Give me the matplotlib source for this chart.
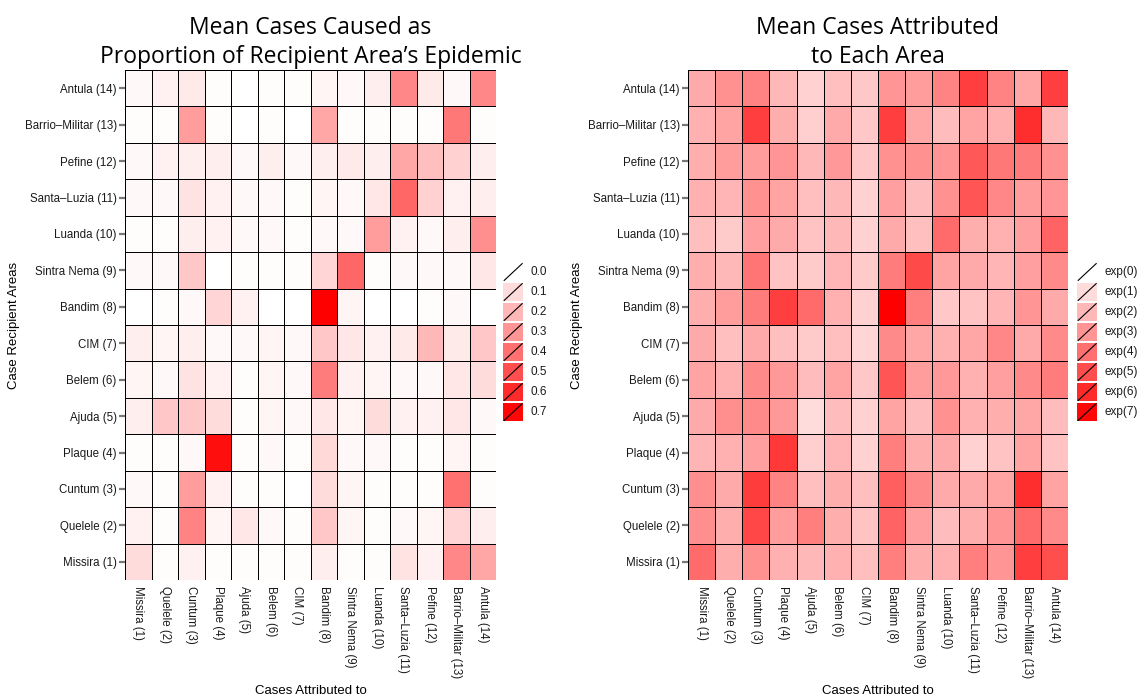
import numpy as np
import matplotlib
matplotlib.use("Agg")
import matplotlib.pyplot as plt
from matplotlib.colors import LinearSegmentedColormap, Normalize
from matplotlib.patches import Rectangle

# area names, index 1..14
areas = ["Missira (1)", "Quelele (2)", "Cuntum (3)", "Plaque (4)", "Ajuda (5)",
         "Belem (6)", "CIM (7)", "Bandim (8)", "Sintra Nema (9)", "Luanda (10)",
         "Santa\u2013Luzia (11)", "Pefine (12)", "Barrio\u2013Militar (13)", "Antula (14)"]

# proportion of recipient epidemic, rows = recipient area 1..14, cols = source area 1..14
prop = np.array([
    [0.10, 0.01, 0.04, 0.01, 0.01, 0.01, 0.01, 0.05, 0.01, 0.01, 0.08, 0.04, 0.34, 0.25],  # Missira
    [0.04, 0.01, 0.35, 0.03, 0.07, 0.02, 0.01, 0.16, 0.03, 0.01, 0.02, 0.03, 0.12, 0.05],  # Quelele
    [0.02, 0.01, 0.28, 0.04, 0.01, 0.01, 0.00, 0.10, 0.03, 0.01, 0.01, 0.01, 0.40, 0.01],  # Cuntum
    [0.01, 0.01, 0.02, 0.68, 0.01, 0.02, 0.01, 0.11, 0.02, 0.02, 0.01, 0.01, 0.03, 0.01],  # Plaque
    [0.05, 0.16, 0.16, 0.10, 0.01, 0.03, 0.02, 0.07, 0.03, 0.10, 0.04, 0.04, 0.07, 0.02],  # Ajuda
    [0.03, 0.02, 0.08, 0.04, 0.01, 0.03, 0.02, 0.37, 0.04, 0.03, 0.02, 0.02, 0.07, 0.10],  # Belem
    [0.05, 0.03, 0.05, 0.02, 0.02, 0.03, 0.02, 0.16, 0.07, 0.04, 0.06, 0.20, 0.06, 0.16],  # CIM
    [0.00, 0.01, 0.02, 0.12, 0.04, 0.00, 0.00, 0.72, 0.03, 0.00, 0.00, 0.01, 0.02, 0.00],  # Bandim
    [0.02, 0.02, 0.16, 0.00, 0.01, 0.01, 0.01, 0.12, 0.43, 0.01, 0.02, 0.02, 0.02, 0.07],  # Sintra Nema
    [0.01, 0.01, 0.05, 0.04, 0.02, 0.02, 0.01, 0.02, 0.02, 0.28, 0.04, 0.02, 0.05, 0.32],  # Luanda
    [0.02, 0.02, 0.08, 0.04, 0.02, 0.02, 0.01, 0.03, 0.02, 0.07, 0.43, 0.13, 0.04, 0.05],  # Santa-Luzia
    [0.02, 0.04, 0.05, 0.05, 0.02, 0.05, 0.02, 0.05, 0.06, 0.05, 0.25, 0.18, 0.13, 0.05],  # Pefine
    [0.01, 0.01, 0.28, 0.01, 0.00, 0.01, 0.00, 0.25, 0.01, 0.01, 0.01, 0.01, 0.38, 0.01],  # Barrio-Militar
    [0.02, 0.04, 0.06, 0.01, 0.00, 0.01, 0.01, 0.03, 0.02, 0.05, 0.34, 0.06, 0.02, 0.34],  # Antula
])

# log of mean cases attributed, same layout
logcases = np.array([
    [4.2, 2.3, 3.1, 2.2, 2.0, 2.2, 1.8, 3.6, 2.3, 2.2, 3.6, 3.0, 5.4, 5.0],
    [3.2, 2.3, 5.2, 2.8, 3.6, 2.3, 1.7, 4.4, 2.7, 1.9, 2.3, 3.0, 4.2, 3.3],
    [3.2, 2.4, 5.5, 3.5, 1.8, 2.3, 1.8, 4.5, 3.3, 2.4, 2.4, 2.6, 5.9, 2.6],
    [2.1, 2.2, 2.7, 5.6, 1.4, 2.1, 1.3, 3.6, 2.3, 2.4, 1.3, 1.7, 2.6, 1.7],
    [2.4, 3.2, 3.3, 2.9, 1.0, 1.9, 1.3, 2.6, 1.9, 3.1, 2.2, 2.3, 2.5, 1.9],
    [2.6, 2.2, 3.3, 2.9, 1.9, 2.6, 1.6, 4.8, 2.8, 2.9, 2.2, 2.7, 3.3, 3.7],
    [2.4, 1.8, 2.4, 1.8, 1.5, 1.8, 1.2, 3.3, 2.5, 2.2, 2.5, 3.4, 2.4, 3.3],
    [2.3, 2.8, 3.7, 5.4, 4.2, 2.2, 1.3, 7.2, 3.6, 1.6, 1.7, 2.1, 3.0, 2.4],
    [2.3, 2.0, 3.9, 1.7, 1.5, 2.1, 1.5, 3.7, 5.1, 2.6, 2.4, 2.1, 2.7, 3.3],
    [1.8, 1.5, 2.7, 2.4, 1.7, 2.0, 1.3, 2.4, 1.8, 4.2, 2.3, 2.2, 2.7, 4.4],
    [2.2, 2.1, 3.1, 2.6, 1.8, 2.0, 1.3, 2.7, 1.9, 3.1, 4.8, 3.4, 2.8, 3.0],
    [2.3, 2.8, 2.8, 3.0, 2.0, 2.9, 1.6, 3.1, 3.1, 3.0, 4.7, 3.8, 3.7, 3.1],
    [2.2, 2.6, 5.4, 2.3, 1.4, 2.4, 1.6, 5.4, 2.5, 1.9, 2.6, 2.2, 5.9, 2.0],
    [2.4, 3.1, 3.5, 2.0, 1.3, 1.8, 1.55, 3.0, 2.8, 3.5, 5.4, 3.5, 2.5, 5.4],
])

prop_breaks = [0.0, 0.1, 0.2, 0.3, 0.4, 0.5, 0.6, 0.7]
prop_labels = ["0.0", "0.1", "0.2", "0.3", "0.4", "0.5", "0.6", "0.7"]
log_breaks = [0, 1, 2, 3, 4, 5, 6, 7]
log_labels = ["exp(%d)" % b for b in log_breaks]

cmap = LinearSegmentedColormap.from_list("wr", ["#FFFFFF", "#FF0000"])
tick_font = "Liberation Sans"
title_font = "Open Sans"

fig = plt.figure(figsize=(11.4, 7.0), dpi=100)


def heat(rect, data, title, breaks, labels, leg_rect):
    ax = fig.add_axes(rect)
    norm = Normalize(vmin=0, vmax=data.max())
    n = data.shape[0]
    ax.pcolormesh(np.arange(n + 1) + 0.5, np.arange(n + 1) + 0.5, data,
                  cmap=cmap, norm=norm, edgecolors="black", linewidth=0.65)
    ax.set_xlim(0.5, n + 0.5)
    ax.set_ylim(0.5, n + 0.5)
    for s in ax.spines.values():
        s.set_visible(False)
    ax.set_xticks(np.arange(1, n + 1))
    ax.set_yticks(np.arange(1, n + 1))
    ax.set_xticklabels(areas, rotation=270, fontsize=8.3, family=tick_font,
                       color="#1a1a1a", va="top", ha="center")
    ax.set_yticklabels(areas, fontsize=8.3, family=tick_font, color="#1a1a1a")
    ax.tick_params(axis="x", length=0, pad=4)
    ax.tick_params(axis="y", length=4, width=1.6, color="#777777", pad=2)
    ax.set_xlabel("Cases Attributed to", fontsize=9.5, family=tick_font)
    ax.set_ylabel("Case Recipient Areas", fontsize=9.5, family=tick_font, labelpad=3)
    ax.set_title(title, fontsize=16.5, family=title_font, linespacing=1.27, pad=5)
    ax.xaxis.set_label_coords(0.5, -0.205)

    # legend keys with diagonal glyph
    lg = fig.add_axes(leg_rect)
    lg.set_xlim(0, 1)
    lg.set_ylim(0, len(breaks))
    lg.axis("off")
    for i, (b, lab) in enumerate(zip(breaks, labels)):
        y0 = len(breaks) - 1 - i
        lg.add_patch(Rectangle((0, y0 + 0.04), 0.34, 0.92, facecolor=cmap(norm(b)),
                               edgecolor="none"))
        lg.plot([0.02, 0.32], [y0 + 0.08, y0 + 0.92], color="black", lw=0.8)
        lg.text(0.46, y0 + 0.5, lab, va="center", ha="left", fontsize=8.5,
                family=tick_font, color="#1a1a1a")
    return ax


heat([125 / 1140, 1 - 580 / 700, 371 / 1140, 510 / 700], prop,
     "Mean Cases Caused as\nProportion of Recipient Area\u2019s Epidemic",
     prop_breaks, prop_labels, [503 / 1140, 1 - 422 / 700, 60 / 1140, 160 / 700])
heat([688 / 1140, 1 - 580 / 700, 380 / 1140, 510 / 700], logcases,
     "Mean Cases Attributed\nto Each Area",
     log_breaks, log_labels, [1077 / 1140, 1 - 422 / 700, 60 / 1140, 160 / 700])

fig.savefig("out.png", dpi=100, facecolor="white")
